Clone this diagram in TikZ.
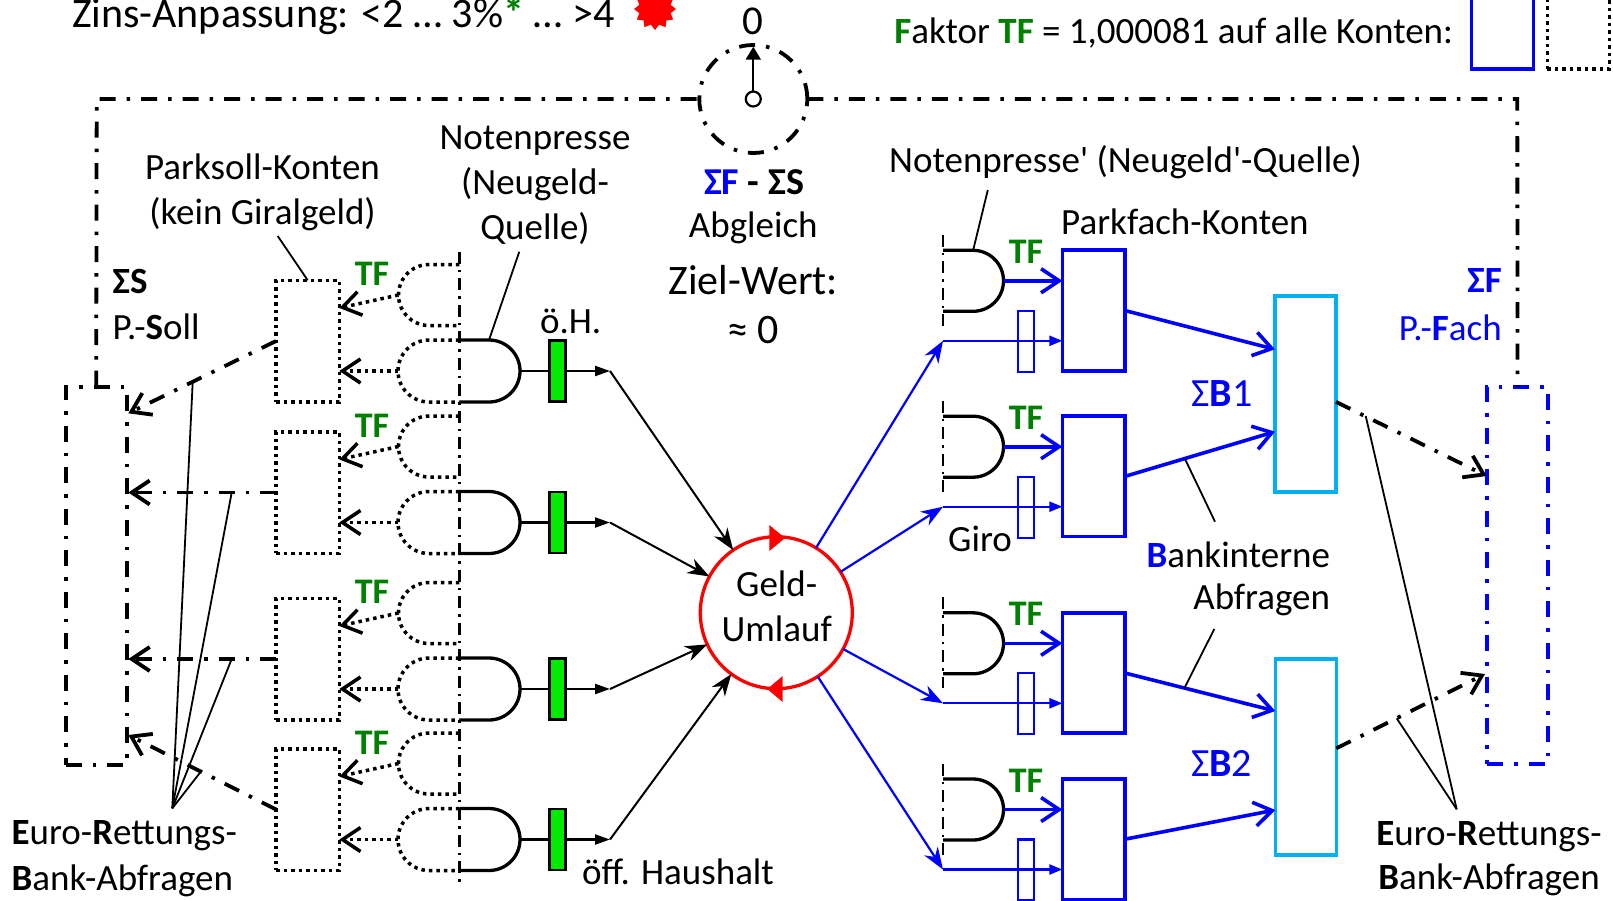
\documentclass[tikz,border=0pt]{standalone}
\usepackage{fontspec}
\setmainfont{Carlito}[Ligatures=TeXOff]
\usetikzlibrary{arrows.meta,shapes.geometric}
\definecolor{tfgreen}{RGB}{0,128,0}
\definecolor{cyanbox}{RGB}{0,176,240}
\definecolor{fillgreen}{RGB}{0,235,0}
\begin{document}
\begin{tikzpicture}[x=1pt,y=-1pt,
  every node/.style={inner sep=0pt, outer sep=0pt, font=\fontsize{37}{45}\selectfont},
  big/.style={font=\fontsize{42}{50}\selectfont},
  ddash/.style={line width=3.8pt, dash pattern=on 16pt off 11pt on 3.5pt off 11pt},
  dthin/.style={line width=2.4pt, dash pattern=on 12pt off 6pt on 2.5pt off 6pt},
  dotl/.style={line width=3.5pt, dash pattern=on 3.5pt off 4pt},
  gate/.style={line width=3.3pt},
  barb/.style={-{Straight Barb[length=18pt,width=24pt]}},
  tf/.style={text=tfgreen, font=\bfseries\fontsize{36}{44}\selectfont},
  lead/.style={line width=1.8pt},
  blackarr/.style={line width=2pt, -{Stealth[length=22pt,width=16pt,inset=7pt]}},
  bluearr/.style={blue, line width=2.2pt, -{Stealth[length=22pt,width=16pt,inset=7pt]}},
  thickarr/.style={blue, line width=3.6pt, -{Straight Barb[length=18pt,width=24pt]}},
  pfbox/.style={draw=blue, line width=3.6pt, minimum width=62.5pt, minimum height=120.5pt},
  sbox/.style={draw=cyanbox, line width=3.4pt, minimum width=61pt, minimum height=196pt}
]
\useasboundingbox (0,0) rectangle (1613,900);

% ---------- top texts ----------
\node (zins) [anchor=base west, big] at (72,27) {Zins-Anpassung: <2 … 3\%\textcolor{tfgreen}{\textbf{*}} … >4};
\node[star, star points=12, star point ratio=1.3, fill=red, minimum size=42pt] (burst) at (655,9) {};
\node (fak) [anchor=east] at (1453,33) {\textcolor{tfgreen}{\textbf{F}}aktor \textcolor{tfgreen}{\textbf{TF}} = 1,000081 auf alle Konten:};
\node[draw=blue, line width=3.4pt, minimum width=61.6pt, minimum height=82pt] (legB) at (1502.5,28) {};
\node[draw, dotl, minimum width=62pt, minimum height=82pt] (legD) at (1578.3,28) {};

% ---------- gauge and frame ----------
\node[circle, draw, ddash, minimum size=108pt] (gauge) at (753.3,99) {};
\node[circle, draw, line width=2.2pt, minimum size=15pt] (hub) at (753.3,99) {};
\node (zero) [font=\fontsize{41}{48}\selectfont] at (753.3,21) {0};
\coordinate (gtip) at (753.3,46.7);
\draw[line width=2.2pt, -{Triangle[length=13pt,width=15pt]}] (hub) -- (gtip);

\node[draw, ddash, minimum width=61pt, minimum height=378.3pt] (lbox) at (96.2,575.85) {};
\node[draw=blue, ddash, minimum width=60.4pt, minimum height=377.6pt] (rbox) at (1517.5,575.5) {};
\coordinate (fTL) at (96.7,99);
\coordinate (fTR) at (1517.3,99);
\draw[ddash] (lbox.north) -- (fTL) -- (gauge.west);
\draw[ddash] (gauge.east) -- (fTR) -- (rbox.north);

% ---------- center texts ----------
\node (sfs) [font=\fontsize{38}{45}\selectfont] at (754,181.7) {\textcolor{blue}{\textbf{ΣF}} \textbf{-} \textbf{ΣS}};
\node (abgl) at (753.3,228.3) {Abgleich};
\node (ziel) [big] at (753.3,280) {Ziel-Wert:};
\node (appr) [big] at (753.3,330) {≈ 0};

% ---------- Geld-Umlauf ----------
\node[circle, draw=red, line width=3.3pt, minimum size=152pt] (circ) at (776.3,612.7) {};
\node (gu) [align=center] at (776.7,606.5) {Geld-\\Umlauf};
\fill[red] (785,538) -- (769.3,525) -- (769.3,551) -- cycle;
\fill[red] (767.3,689) -- (782.7,676) -- (782.7,702) -- cycle;

% ---------- left side ----------
\coordinate (vlt) at (459.3,251.7);
\coordinate (vlb) at (459.3,881.7);
\draw[dthin] (vlt) -- (vlb);
\foreach \L [count=\i] in {371,522.5,689,839.5} {
  \draw[gate] (459.3,\L-31) -- (489,\L-31) arc[start angle=-90,end angle=90,radius=31] -- (459.3,\L+31);
  \draw[dotl] (459.3,\L-106.5) -- (429,\L-106.5) arc[start angle=-90,end angle=-270,radius=30.5] -- (459.3,\L-45.5);
  \draw[dotl] (459.3,\L-31) -- (429,\L-31) arc[start angle=-90,end angle=-270,radius=31] -- (459.3,\L+31);
  \node[draw, dotl, minimum width=63.3pt, minimum height=121.5pt] (pk\i) at (307.7,\L-30) {};
  \node[tf] (tfl\i) at (372,\L-97) {TF};
  \coordinate (cu\i) at (398.5,\L-76);
  \coordinate (cl\i) at (398,\L);
  \draw[dotl, barb] (cu\i) -- ([yshift=33pt]pk\i.east);
  \draw[dotl, barb] (cl\i) -- (cl\i -| pk\i.east);
  \node[draw=black, fill=fillgreen, line width=2.2pt, minimum width=16pt, minimum height=61pt] (g\i) at (557.5,\L) {};
  \coordinate (gout\i) at (520,\L);
  \coordinate (o\i) at (610,\L);
  \draw[line width=2.2pt] (gout\i) -- (g\i.west);
  \draw[line width=2.2pt, -{Triangle[length=15pt,width=10pt]}] (g\i.east) -- (o\i);
  \draw[blackarr] (o\i) -- (circ);
}
\coordinate (lt1) at (128.3,413.3);
\coordinate (lt2) at (128.3,492.5);
\coordinate (lt3) at (128.3,659);
\coordinate (lt4) at (128.3,735);
\foreach \i in {1,...,4} { \draw[ddash, barb] (pk\i.west) -- (lt\i); }

\node (pkl) [align=center] at (262.5,192) {Parksoll-Konten\\(kein Giralgeld)};
\coordinate (pkla) at (277.7,236);
\draw[lead] (pkla) -- (pk1.north);
\node (ss) [anchor=west] at (112.7,281.7) {\textbf{ΣS}};
\node (psoll) [anchor=west] at (112.7,326.7) {P.-\textbf{S}oll};
\node (npL) [align=center] at (535,185) {Notenpresse\\(Neugeld-\\Quelle)};
\coordinate (npla) at (519.3,251.7);
\coordinate (nplb) at (489,340);
\draw[lead] (npla) -- (nplb);
\node (oh) at (570.7,321.7) {ö.H.};
\node (ofh) at (678,871.7) {öff. Haushalt};

\node (erL) [anchor=west, align=left, font=\fontsize{37}{46}\selectfont] at (11.7,859) {\textbf{E}uro-\textbf{R}ettungs-\\\textbf{B}ank-Abfragen};
\coordinate (eapL) at (172.3,808.3);
\coordinate (el1) at (192.7,382);
\coordinate (el2) at (231.7,492.5);
\coordinate (el3) at (231.7,659);
\coordinate (el4) at (201.7,770.5);
\foreach \i in {1,...,4} { \draw[lead] (eapL) -- (el\i); }

% ---------- right side ----------
\foreach \G [count=\i] in {280.8,446.7,643.3,809.5} {
  \coordinate (dt\i) at (943,\G-46);
  \coordinate (db\i) at (943,\G+45);
  \draw[dthin] (dt\i) -- (db\i);
  \draw[gate] (943,\G-30.5) -- (973,\G-30.5) arc[start angle=-90,end angle=90,radius=30.5] -- (943,\G+30.5);
  \node[pfbox] (pf\i) at (1093.6,\G+29.7) {};
  \node[tf] (tfr\i) at (1026,\G-29) {TF};
  \coordinate (tfs\i) at (1003.5,\G);
  \draw[thickarr] (tfs\i) -- (tfs\i -| pf\i.west);
  \node[draw=blue, line width=2.2pt, minimum width=16pt, minimum height=61pt] (sr\i) at (1026,\G+60.5) {};
  \coordinate (gin\i) at (943,\G+60);
  \draw[blue, line width=2.2pt, -{Triangle[length=13pt,width=10pt]}] (gin\i) -- (gin\i -| pf\i.west);
  \draw[bluearr] (circ) -- (gin\i);
}
\node[sbox] (sb1) at (1305.5,393.85) {};
\node[sbox] (sb2) at (1305.85,757) {};
\draw[thickarr] (pf1.east) -- ([yshift=44.5pt]sb1.west);
\draw[thickarr] (pf2.east) -- ([yshift=-37.8pt]sb1.west);
\draw[thickarr] (pf3.east) -- ([yshift=46pt]sb2.west);
\draw[thickarr] (pf4.east) -- ([yshift=-53pt]sb2.west);
\coordinate (rt1) at (1486.7,476);
\coordinate (rt2) at (1485,674);
\draw[ddash, barb] ([yshift=-8pt]sb1.east) -- (rt1);
\draw[ddash, barb] ([yshift=8.7pt]sb2.east) -- (rt2);

\node (npR) at (1125.5,161.7) {Notenpresse' (Neugeld'-Quelle)};
\coordinate (npra) at (987.8,190);
\coordinate (nprb) at (973.2,250);
\draw[lead] (npra) -- (nprb);
\node (pfk) at (1184.9,221.7) {Parkfach-Konten};
\node (sb1l) [font=\fontsize{40}{48}\selectfont] at (1222,393.3) {\textcolor{blue}{Σ\textbf{B}1}};
\node (sb2l) [font=\fontsize{40}{48}\selectfont] at (1221.7,763.3) {\textcolor{blue}{Σ\textbf{B}2}};
\node (sfR) [anchor=east] at (1501.7,280) {\textcolor{blue}{\textbf{ΣF}}};
\node (pfach) [anchor=east] at (1501.7,327.3) {\textcolor{blue}{P.-\textbf{F}ach}};
\node (giro) at (980,539.3) {Giro};
\node (bi) [anchor=east] at (1330,555) {\textcolor{blue}{\textbf{B}}ankinterne};
\node (abf) [anchor=east] at (1330,600) {Abfragen};
\coordinate (bia) at (1215,521.7);
\coordinate (bib) at (1185,459);
\coordinate (abfa) at (1214.3,629);
\coordinate (abfb) at (1184.3,688.3);
\draw[lead] (bia) -- (bib);
\draw[lead] (abfa) -- (abfb);

\node (erR) [align=center, font=\fontsize{37}{44}\selectfont] at (1489,859) {\textbf{E}uro-\textbf{R}ettungs-\\\textbf{B}ank-Abfragen};
\coordinate (eapR) at (1456.7,809.3);
\coordinate (er1) at (1365.7,416);
\coordinate (er2) at (1396.7,718.3);
\draw[lead] (eapR) -- (er1);
\draw[lead] (eapR) -- (er2);
\end{tikzpicture}
\end{document}
